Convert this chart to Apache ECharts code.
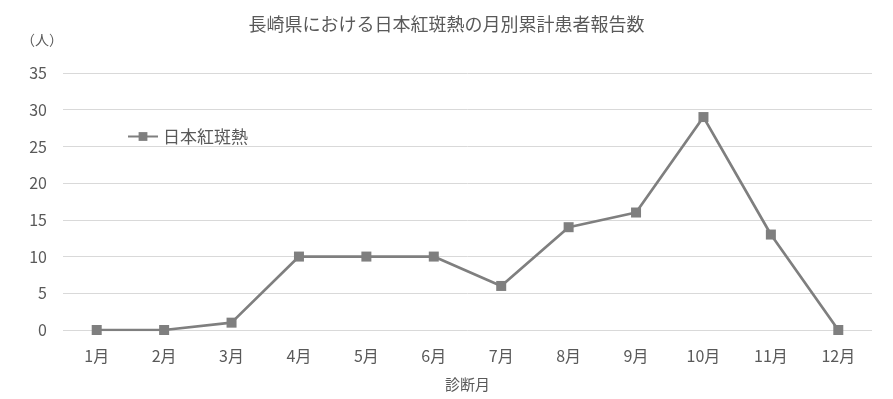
<!DOCTYPE html>
<html>
<head>
<meta charset="utf-8">
<script src="https://cdn.jsdelivr.net/npm/echarts@6/dist/echarts.min.js"></script>
<style>
  html, body { margin: 0; padding: 0; background: #fff; }
  #chart { width: 893px; height: 399px; }
</style>
</head>
<body>
<div id="chart"></div>
<script>
const titleText = '長崎県における日本紅斑熱の月別累計患者報告数';
const seriesName = '日本紅斑熱';
const months = ['1月', '2月', '3月', '4月', '5月', '6月', '7月', '8月', '9月', '10月', '11月', '12月'];
const patients = [0, 0, 1, 10, 10, 10, 6, 14, 16, 29, 13, 0];

const FONT = '"Noto Sans CJK JP", sans-serif';
const TEXT = '#595959';
const chart = echarts.init(document.getElementById('chart'), null, { renderer: 'canvas' });

chart.setOption({
  backgroundColor: '#ffffff',
  textStyle: { fontFamily: FONT },
  title: {
    text: titleText,
    left: 'center',
    top: 10,
    textStyle: { fontFamily: FONT, fontSize: 18, fontWeight: 'normal', color: TEXT }
  },
  legend: {
    left: 122,
    top: 123,
    itemWidth: 30,
    itemHeight: 11,
    textStyle: { fontFamily: FONT, fontSize: 17, color: TEXT },
    data: [seriesName]
  },
  grid: { left: 63, right: 21, top: 73, bottom: 69, containLabel: false, outerBoundsMode: 'none' },
  xAxis: {
    type: 'category',
    data: months,
    name: '診断月',
    nameLocation: 'middle',
    nameGap: 47,
    nameTextStyle: { fontFamily: FONT, fontSize: 15, color: TEXT },
    axisLine: { show: false },
    axisTick: { show: false },
    axisLabel: { fontFamily: FONT, fontSize: 16, color: TEXT, margin: 18 }
  },
  yAxis: {
    type: 'value',
    min: 0,
    max: 35,
    interval: 5,
    name: '（人）',
    nameLocation: 'end',
    nameGap: 26,
    nameTextStyle: { fontFamily: FONT, fontSize: 14, color: TEXT, align: 'right' },
    axisLine: { show: false },
    axisTick: { show: false },
    axisLabel: { fontFamily: FONT, fontSize: 16, color: TEXT, margin: 16 },
    splitLine: { lineStyle: { color: '#d9d9d9', width: 1 } }
  },
  series: [{
    name: seriesName,
    type: 'line',
    data: patients,
    symbol: 'rect',
    symbolSize: 10,
    itemStyle: { color: '#7f7f7f' },
    lineStyle: { color: '#7f7f7f', width: 2.7 }
  }]
});
</script>
</body>
</html>
